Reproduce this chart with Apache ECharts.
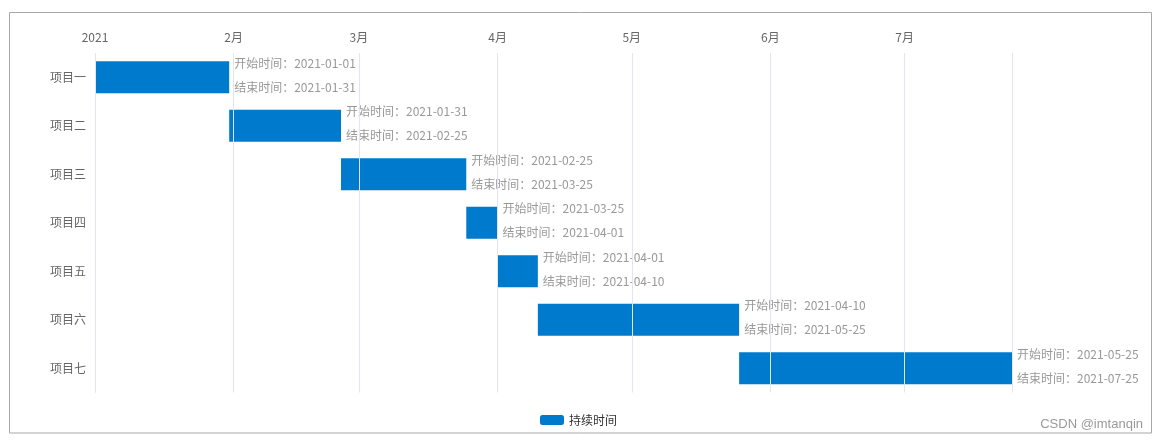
<!DOCTYPE html>
<html>
<head>
<meta charset="utf-8">
<script src="https://cdn.jsdelivr.net/npm/echarts@6/dist/echarts.min.js"></script>
<style>
html,body{margin:0;padding:0;background:#fff;}
#main{width:1157px;height:441px;}
</style>
</head>
<body>
<div id="main"></div>
<script>
const categories = ['项目一','项目二','项目三','项目四','项目五','项目六','项目七'];
const startDates = ['2021-01-01','2021-01-31','2021-02-25','2021-03-25','2021-04-01','2021-04-10','2021-05-25'];
const endDates   = ['2021-01-31','2021-02-25','2021-03-25','2021-04-01','2021-04-10','2021-05-25','2021-07-25'];
const axisMin = '2021-01-01';
const axisMax = '2021-07-25';
const seriesName = '持续时间';

const FONT = "'Microsoft YaHei','Noto Sans CJK SC',sans-serif";
function ts(s){ const p = s.split('-'); return new Date(+p[0], +p[1]-1, +p[2]).getTime(); }

const data = categories.map((c,i)=>[i, ts(startDates[i]), ts(endDates[i])]);

const chart = echarts.init(document.getElementById('main'));
const BAR = '#007ACC';
chart.setOption({
  animation:false,
  grid:{left:95, right:145, top:53, bottom:48.5},
  legend:{
    bottom:10, left:'center',
    data:[{name:seriesName, icon:'roundRect'}],
    itemWidth:24, itemHeight:10,
    textStyle:{color:'#333', fontSize:12, fontFamily:FONT}
  },
  graphic:[
    {type:'rect', silent:true, z:-1, shape:{x:9.5, y:12.5, width:1142, height:420.5},
     style:{fill:'none', stroke:'#a8a8a8', lineWidth:1}},
    {type:'text', right:14, bottom:10, silent:true,
     style:{text:'CSDN @imtanqin', fill:'#9a9a9a', font:"13px 'Liberation Sans', Arial, sans-serif"}}
  ],
  xAxis:{
    type:'time', position:'top', z:5,
    min:ts(axisMin), max:ts(axisMax),
    axisLine:{show:false}, axisTick:{show:false},
    splitLine:{show:true, lineStyle:{color:'#E0E6F1'}},
    axisLabel:{
      color:'#666', fontSize:12, fontFamily:FONT, margin:10,
      formatter:function(v){
        const d = new Date(v);
        if (d.getDate() !== 1) return '';
        if (d.getMonth() === 0) return String(d.getFullYear());
        return (d.getMonth()+1) + '月';
      }
    }
  },
  yAxis:{
    type:'category', inverse:true, data:categories,
    axisLine:{show:false}, axisTick:{show:false}, splitLine:{show:false},
    axisLabel:{color:'#666', fontSize:12, fontFamily:FONT, margin:9}
  },
  series:[{
    type:'custom', name:seriesName, z:2,
    itemStyle:{color:BAR},
    encode:{x:[1,2], y:0},
    data:data,
    renderItem:function(params, api){
      const idx = api.value(0);
      const s = api.coord([api.value(1), idx]);
      const e = api.coord([api.value(2), idx]);
      const h = api.size([0,1])[1]*0.66;
      const i = params.dataIndex;
      return {
        type:'rect',
        shape:{x:s[0], y:s[1]-h/2, width:e[0]-s[0], height:h},
        style:{fill:BAR},
        textContent:{
          style:{
            text:'开始时间：' + startDates[i] + '\n结束时间：' + endDates[i],
            fill:'#999', fontSize:12, lineHeight:24, fontFamily:FONT
          }
        },
        textConfig:{position:'right', distance:5, offset:[0,-2]}
      };
    }
  }]
});
</script>
</body>
</html>
